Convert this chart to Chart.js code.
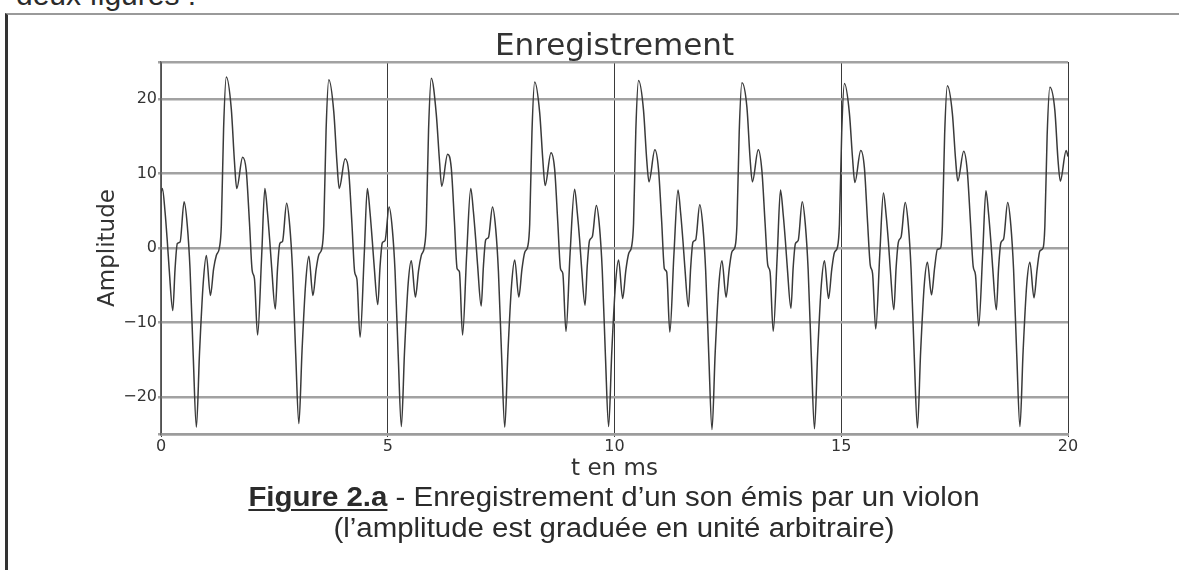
<!DOCTYPE html>
<html lang="fr">
<head>
<meta charset="utf-8">
<title>Enregistrement</title>
<script src="https://cdn.jsdelivr.net/npm/chart.js@4.4.1/dist/chart.umd.min.js"></script>
<style>
  html, body { margin: 0; padding: 0; background: #fff; }
  body { width: 1179px; height: 570px; position: relative; overflow: hidden;
         font-family: "Liberation Sans", Arial, sans-serif; color: #2b2b2b; }
  #intro { position: absolute; left: 16px; top: -20px; font-size: 30px; line-height: 30px; white-space: nowrap; }
  #frame { position: absolute; left: 5px; top: 13px; width: 1300px; height: 700px;
           border-left: 3px solid #333; border-top: 2px solid #9a9a9a; }
  #chart { position: absolute; left: 0; top: 0; }
  #caption { position: absolute; left: 0; top: 482px; width: 1228px; text-align: center;
             font-size: 27px; line-height: 31px; transform: scaleX(1.09); transform-origin: 614px 0; }
  #caption b { text-decoration: underline; text-decoration-thickness: 2px; text-underline-offset: 3px; }
</style>
</head>
<body>
<div id="intro">deux figures :</div>
<div id="frame"></div>
<canvas id="chart" width="1179" height="570"></canvas>
<div id="caption"><b>Figure 2.a</b> - Enregistrement d’un son émis par un violon<br>(l’amplitude est graduée en unité arbitraire)</div>
<script>
// time (ms), one line per period of the recording
const timeMs = [
  0, 0.03, 0.09, 0.14, 0.18, 0.26, 0.31, 0.36, 0.42, 0.51, 0.58, 0.64, 0.71, 0.78, 0.85, 0.93, 1.00, 1.09, 1.16, 1.22, 1.29, 1.33, 1.38, 1.44, 1.55, 1.62, 1.67, 1.80, 1.88, 1.95, 2.01, 2.06, 2.13, 2.22,
  2.29, 2.35, 2.40, 2.44, 2.52, 2.57, 2.62, 2.68, 2.77, 2.84, 2.90, 2.97, 3.04, 3.11, 3.19, 3.26, 3.35, 3.42, 3.48, 3.55, 3.59, 3.64, 3.70, 3.81, 3.88, 3.93, 4.06, 4.14, 4.21, 4.27, 4.32, 4.39, 4.48,
  4.55, 4.61, 4.66, 4.70, 4.78, 4.83, 4.88, 4.94, 5.03, 5.10, 5.16, 5.23, 5.30, 5.37, 5.45, 5.52, 5.61, 5.68, 5.74, 5.81, 5.85, 5.90, 5.96, 6.07, 6.14, 6.19, 6.32, 6.40, 6.47, 6.53, 6.58, 6.65, 6.74,
  6.83, 6.89, 6.94, 6.98, 7.06, 7.11, 7.16, 7.22, 7.31, 7.38, 7.44, 7.51, 7.58, 7.65, 7.73, 7.80, 7.89, 7.96, 8.02, 8.09, 8.13, 8.18, 8.24, 8.35, 8.42, 8.47, 8.60, 8.68, 8.75, 8.81, 8.86, 8.93, 9.02,
  9.12, 9.18, 9.23, 9.27, 9.35, 9.40, 9.45, 9.51, 9.60, 9.67, 9.73, 9.80, 9.87, 9.94, 10.02, 10.09, 10.18, 10.25, 10.31, 10.38, 10.42, 10.47, 10.53, 10.64, 10.71, 10.76, 10.89, 10.97, 11.04, 11.10, 11.15, 11.22, 11.31,
  11.40, 11.46, 11.51, 11.55, 11.63, 11.68, 11.73, 11.79, 11.88, 11.95, 12.01, 12.08, 12.15, 12.22, 12.30, 12.37, 12.46, 12.53, 12.59, 12.66, 12.70, 12.75, 12.81, 12.92, 12.99, 13.04, 13.17, 13.25, 13.32, 13.38, 13.43, 13.50, 13.59,
  13.66, 13.72, 13.77, 13.81, 13.89, 13.94, 13.99, 14.05, 14.14, 14.21, 14.27, 14.34, 14.41, 14.48, 14.56, 14.63, 14.72, 14.79, 14.85, 14.92, 14.96, 15.01, 15.07, 15.18, 15.25, 15.30, 15.43, 15.51, 15.58, 15.64, 15.69, 15.76, 15.85,
  15.93, 15.99, 16.04, 16.08, 16.16, 16.21, 16.26, 16.32, 16.41, 16.48, 16.54, 16.61, 16.68, 16.75, 16.83, 16.90, 16.99, 17.06, 17.12, 17.19, 17.23, 17.28, 17.34, 17.45, 17.52, 17.57, 17.70, 17.78, 17.85, 17.91, 17.96, 18.03, 18.12,
  18.19, 18.25, 18.30, 18.34, 18.42, 18.47, 18.52, 18.58, 18.67, 18.74, 18.80, 18.87, 18.94, 19.01, 19.09, 19.16, 19.25, 19.32, 19.38, 19.45, 19.49, 19.54, 19.60, 19.71, 19.78, 19.83, 19.96, 20.00
];

// amplitude (arbitrary unit), same layout as timeMs
const amplitude = [
  7.4, 8.0, 4.8, 0.8, -2.8, -8.4, -2.8, 0.6, 0.8, 6.2, 3.0, -2.8, -14.4, -24.1, -14.0, -4.8, -1.0, -6.4, -2.8, -1.0, 0.1, 3.0, 16.0, 23.0, 18.7, 11.6, 8.0, 12.2, 10.4, 3.5, -3.0, -4.1, -11.7, -1.0,
  8.0, 4.6, 0.8, -2.6, -8.2, -2.7, 0.6, 0.9, 6.0, 2.9, -2.9, -14.2, -23.6, -13.8, -4.7, -1.1, -6.4, -2.9, -0.9, 0.0, 3.1, 15.8, 22.6, 18.3, 11.5, 8.0, 12.0, 10.2, 3.3, -3.2, -4.2, -12.0, -1.1,
  8.0, 4.7, 0.9, -2.4, -7.6, -2.5, 0.7, 1.0, 5.5, 2.6, -3.0, -14.3, -24.0, -13.9, -4.8, -1.7, -6.6, -3.0, -1.0, 0.2, 3.2, 15.9, 22.8, 18.0, 11.8, 8.3, 12.6, 10.8, 3.6, -2.8, -3.2, -11.7, -0.9,
  8.0, 4.8, 1.1, -2.2, -7.8, -2.4, 1.1, 1.4, 5.5, 2.6, -3.1, -14.4, -24.1, -14.0, -5.0, -1.6, -6.6, -2.8, -0.6, 0.3, 3.2, 15.6, 22.3, 18.2, 11.8, 8.4, 12.8, 10.6, 3.4, -2.8, -3.4, -11.2, -0.8,
  7.9, 4.7, 1.2, -2.3, -7.7, -2.3, 1.0, 1.5, 5.7, 2.8, -3.0, -14.5, -24.0, -14.0, -5.0, -1.6, -6.8, -3.0, -0.8, 0.3, 3.3, 15.8, 22.5, 18.5, 11.9, 8.9, 13.2, 10.6, 3.6, -2.8, -3.2, -11.3, -0.9,
  7.8, 4.6, 0.9, -2.5, -7.9, -2.6, 0.8, 1.1, 5.8, 2.8, -3.0, -14.6, -24.4, -14.1, -5.0, -1.7, -6.6, -2.8, -0.5, 0.2, 3.2, 15.6, 22.2, 18.9, 12.0, 8.9, 13.2, 10.4, 3.4, -2.3, -3.2, -11.2, -0.8,
  7.8, 4.5, 0.8, -2.6, -8.1, -2.6, 0.6, 1.0, 6.2, 3.0, -2.9, -14.6, -24.3, -14.1, -5.0, -1.7, -6.8, -2.9, -0.6, 0.2, 3.2, 15.5, 22.1, 18.1, 12.0, 8.8, 13.1, 10.8, 3.5, -2.3, -3.4, -10.9, -0.8,
  7.4, 4.4, 0.8, -2.7, -8.3, -2.6, 0.8, 1.5, 6.1, 3.0, -2.9, -14.6, -24.2, -14.0, -5.0, -1.9, -6.3, -2.6, -0.2, 0.0, 3.0, 15.3, 21.8, 18.1, 12.0, 9.0, 13.0, 10.3, 3.4, -2.5, -3.6, -10.5, -0.6,
  7.7, 4.5, 0.8, -2.7, -8.3, -2.6, 0.7, 1.2, 6.1, 3.0, -2.9, -14.4, -24.0, -13.9, -4.9, -1.9, -6.7, -2.8, -0.4, 0.0, 3.0, 15.1, 21.6, 18.5, 11.8, 9.0, 13.1, 12.3
];

const xTicks = [0, 5, 10, 15, 20];
const yTicks = [-25, -20, -10, 0, 10, 20, 25];
const yLabelled = [-20, -10, 0, 10, 20];

Chart.defaults.font.family = 'DejaVu Sans';
Chart.defaults.color = '#333';

new Chart(document.getElementById('chart'), {
  type: 'line',
  data: {
    datasets: [{
      data: timeMs.map((t, i) => ({ x: t, y: amplitude[i] })),
      borderColor: '#3a3a3a',
      borderWidth: 1.5,
      pointRadius: 0,
      cubicInterpolationMode: 'monotone',
      fill: false
    }]
  },
  options: {
    responsive: false,
    animation: false,
    events: [],
    layout: { padding: { left: 90, right: 111, top: 8, bottom: 76 } },
    plugins: {
      legend: { display: false },
      tooltip: { enabled: false },
      title: {
        display: true,
        text: 'Enregistrement',
        fullSize: false,
        color: '#333',
        font: { size: 31, weight: 'normal', lineHeight: 1 },
        padding: { top: 23, bottom: 0 }
      }
    },
    scales: {
      x: {
        type: 'linear',
        min: 0,
        max: 20,
        afterBuildTicks: s => { s.ticks = xTicks.map(v => ({ value: v })); },
        afterFit: s => { s.height = 60; },
        grid: { color: '#3a3a3a', lineWidth: 1, tickLength: 3 },
        border: { display: true, color: '#9c9c9c', width: 2.5 },
        ticks: { font: { size: 16 }, padding: 0, maxRotation: 0, callback: v => String(v) },
        title: { display: true, text: 't en ms', font: { size: 23 }, padding: { top: 0, bottom: 11 } }
      },
      y: {
        min: -25,
        max: 25,
        afterBuildTicks: s => { s.ticks = yTicks.map(v => ({ value: v })); },
        afterFit: s => { s.width = 71; },
        grid: { color: '#a2a2a2', lineWidth: 2.5, tickLength: 3 },
        border: { display: true, color: '#666', width: 1.5 },
        ticks: {
          font: { size: 16 },
          padding: 1,
          callback: v => yLabelled.includes(v) ? (v < 0 ? '\u2212' + Math.abs(v) : String(v)) : ''
        },
        title: { display: true, text: 'Amplitude', font: { size: 23 }, padding: { top: 4, bottom: 0 } }
      }
    }
  }
});
</script>
</body>
</html>
